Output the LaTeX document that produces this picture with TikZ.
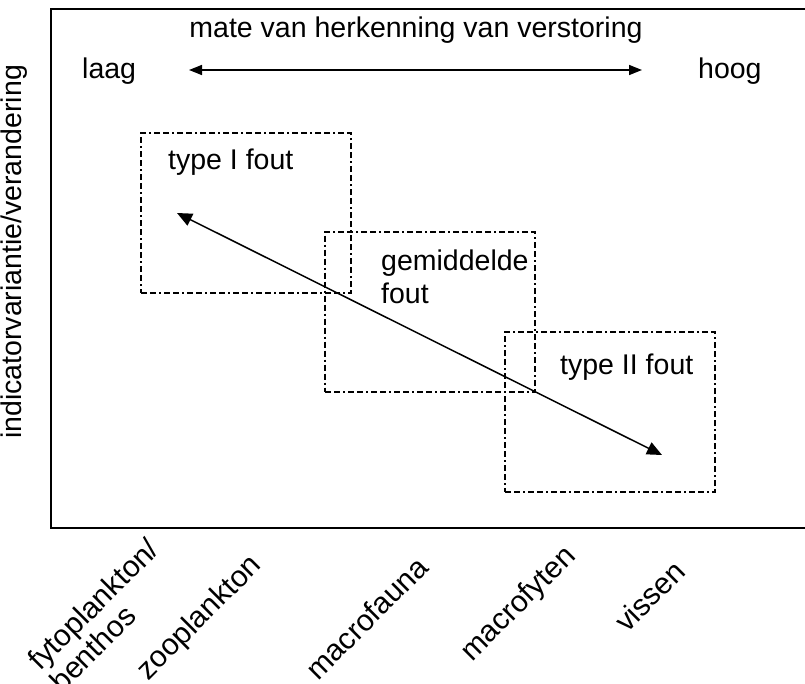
\documentclass[tikz,border=0pt]{standalone}
\usepackage{fontspec}
\setmainfont{Liberation Sans}
\usetikzlibrary{arrows.meta}

\begin{document}
\begin{tikzpicture}[x=1pt,y=-1pt,>={Triangle[length=15pt,width=13pt]},
                    txt/.style={inner sep=0pt,font=\fontsize{28.5}{32.5}\selectfont},
                    soort/.style={inner sep=0pt,rotate=45,font=\fontsize{30}{31}\selectfont},
                    foutvak/.style={draw,line width=2pt,
                      dash pattern=on 6pt off 3pt on 6pt off 3pt on 2pt off 3pt,
                      minimum width=210pt,minimum height=160pt,inner sep=0pt}]
\useasboundingbox (0,0) rectangle (805,683);
% assenkader, rechts loopt het buiten beeld
\draw[line width=2pt] (805,8.5) -| (51,528) -- (805,528);

% bovenas: herkenning van verstoring
\node[txt,anchor=base] (mate) at (416,37) {mate van herkenning van verstoring};
\node[txt,anchor=base west] (laag) at (82,78) {laag};
\node[txt,anchor=base west] (hoog) at (698,78) {hoog};
\coordinate (links) at (189,70);
\coordinate (rechts) at (642,70);
\draw[<->,>={Triangle[length=13pt,width=10pt]},line width=1.5pt] (links) -- (rechts);

% verticale as
\node[txt,rotate=90] (var) at (14.5,252) {indicatorvariantie/verandering};

% foutgebieden
\node[foutvak] (fout1) at (246,213) {};
\node[foutvak] (fout2) at (430,311.5) {};
\node[foutvak] (fout3) at (610,412) {};
\node[txt,anchor=base west] (t1) at (168,169) {type I fout};
\node[txt,anchor=north west,align=left] (t2) at (381,250) {gemiddelde\\fout};
\node[txt,anchor=base west] (t3) at (560,374) {type II fout};

\coordinate (hoek1) at (177,213);
\coordinate (hoek2) at (662,455);
\draw[<->,line width=1.5pt] (hoek1) -- (hoek2);

% organismegroepen onder de as
\node[soort,align=left] (fyto) at (104,615) {fytoplankton/\\benthos};
\node[soort] (zoo) at (200,618.5) {zooplankton};
\node[soort] (fauna) at (366.5,618) {macrofauna};
\node[soort] (fyten) at (519,604.5) {macrofyten};
\node[soort] (vis) at (649.5,596) {vissen};
\end{tikzpicture}
\end{document}
